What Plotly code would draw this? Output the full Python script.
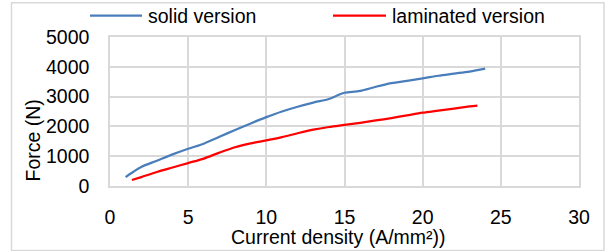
import plotly.graph_objects as go

solid_x = [1, 1.5, 2, 3, 4, 5, 6, 7, 8, 9, 10, 11, 12, 13, 14, 14.5, 15, 16, 17, 18, 19, 20, 21, 22, 23, 24]
solid_y = [300, 480, 640, 850, 1060, 1250, 1420, 1650, 1880, 2100, 2310, 2500, 2660, 2800, 2920, 3030, 3130, 3190, 3330, 3450, 3530, 3610, 3700, 3770, 3840, 3940]

lam_x = [1.4, 2, 3, 4, 5, 6, 7, 8, 9, 10, 11, 12, 13, 14, 15, 16, 17, 18, 19, 20, 21, 22, 23, 23.5]
lam_y = [200, 300, 470, 620, 770, 920, 1120, 1300, 1430, 1530, 1640, 1770, 1890, 1980, 2050, 2120, 2200, 2280, 2370, 2460, 2530, 2600, 2670, 2700]

series_names = ["solid version", "laminated version"]
series_colors = ["#4a7ebb", "#ff0000"]

x_ticks = [0, 5, 10, 15, 20, 25, 30]
y_ticks = [0, 1000, 2000, 3000, 4000, 5000]

FONT = "Liberation Sans"
GRID = "#d9d9d9"
FS = 19.5

# plot area in pixels: x 110..579, y 37..186
L, R, T, B = 110, 579, 37, 186
W, H = R - L, B - T


def px(x):
    return (x - L) / W


def py(y):
    return (B - y) / H


fig = go.Figure()
for xs, ys, name, col in [(solid_x, solid_y, series_names[0], series_colors[0]),
                          (lam_x, lam_y, series_names[1], series_colors[1])]:
    fig.add_trace(go.Scatter(x=xs, y=ys, mode="lines", name=name, showlegend=False,
                             line=dict(color=col, width=2.25, shape="spline", smoothing=0.9)))

# legend drawn manually (long Excel-style keys)
legend_shapes = []
legend_annos = []
for (lx0, lx1, tx), name, col in zip([(90, 142, 146), (333, 386, 390)], series_names, series_colors):
    legend_shapes.append(dict(type="line", xref="paper", yref="paper", x0=px(lx0), x1=px(lx1),
                              y0=py(15.7), y1=py(15.7), line=dict(color=col, width=2.25)))
    legend_annos.append(dict(text=name, xref="paper", yref="paper", x=px(tx), y=py(16),
                             xanchor="left", yanchor="middle", showarrow=False,
                             font=dict(family=FONT, size=FS, color="#000000")))

fig.update_layout(
    width=613, height=251,
    margin=dict(l=L, r=613 - R, t=T, b=251 - B, autoexpand=False),
    paper_bgcolor="white", plot_bgcolor="white",
    font=dict(family=FONT, size=FS, color="#000000"),
    showlegend=False,
    xaxis=dict(range=[0, 30], tickvals=x_ticks, showgrid=True, gridcolor=GRID, gridwidth=1.5,
               showline=True, linecolor=GRID, linewidth=1.5, mirror=True, zeroline=False,
               ticks="", ticklabelstandoff=13, fixedrange=True, automargin=False),
    yaxis=dict(range=[0, 5000], tickvals=y_ticks, showgrid=True, gridcolor=GRID, gridwidth=1.5,
               showline=True, linecolor=GRID, linewidth=1.5, mirror=True, zeroline=False,
               ticks="", ticklabelstandoff=15, fixedrange=True, automargin=False),
    shapes=[dict(type="rect", xref="paper", yref="paper", x0=px(11.5), x1=px(604), y0=py(250.5), y1=py(2.7),
                 line=dict(color=GRID, width=1.5), fillcolor="rgba(0,0,0,0)", layer="below")]
           + legend_shapes,
    annotations=[
        dict(text="Current density (A/mm²))", xref="paper", yref="paper", x=px(338.5), y=py(237),
             xanchor="center", yanchor="middle", showarrow=False, font=dict(family=FONT, size=FS)),
        dict(text="Force (N)", xref="paper", yref="paper", x=px(32.5), y=py(141),
             xanchor="center", yanchor="middle", textangle=-90, showarrow=False,
             font=dict(family=FONT, size=FS)),
    ] + legend_annos,
)

fig.write_html("out.html", config={"displayModeBar": False},
               post_script="document.body.style.margin='0';document.body.style.padding='0';")
